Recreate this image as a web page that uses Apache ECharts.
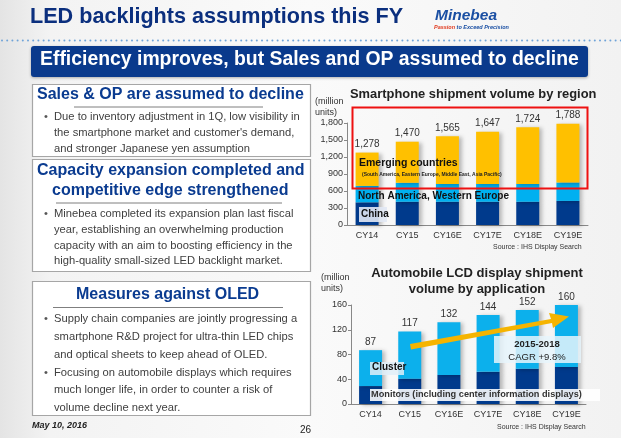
<!DOCTYPE html>
<html>
<head>
<meta charset="utf-8">
<script src="https://cdn.jsdelivr.net/npm/echarts@6/dist/echarts.min.js"></script>
<style>
  html, body { margin: 0; padding: 0; }
  #slide { width: 621px; height: 438px; }
</style>
</head>
<body>
<div id="slide"></div>
<script>
// smartphone shipments by region (million units)
var years = ["CY14", "CY15", "CY16E", "CY17E", "CY18E", "CY19E"];
var phoneTotal = [1278, 1470, 1565, 1647, 1724, 1788];
var phoneChina = [400, 410, 410, 410, 410, 425];
var phoneNaWe = [290, 335, 315, 315, 315, 325];
var phoneEmerging = [588, 725, 840, 922, 999, 1038];
var phoneTicks = [0, 300, 600, 900, 1200, 1500, 1800];

// automobile LCD shipments by application (million units)
var autoTotal = [87, 117, 132, 144, 152, 160];
var autoMonitors = [29, 41, 47, 52, 57, 60];
var autoCluster = [58, 76, 85, 92, 95, 100];
var autoTicks = [0, 40, 80, 120, 160];

var NAVY = "#0b2f7e";
var BLUE_HEAD = "#0a3b90";
var BODY = "#404040";
var FF = "Arial, 'Liberation Sans'";

function fmt(v) {
    return v.toLocaleString("en-US");
}

function txt(x, y, s, style) {
    var st = { text: s, fill: BODY, font: "11px " + FF };
    for (var k in style) st[k] = style[k];
    return { type: "text", x: x, y: y, style: st, z: 40 };
}

function box(x, y, w, h) {
    return {
        type: "rect", shape: { x: x, y: y, width: w, height: h },
        style: { fill: "#ffffff", stroke: "#a6a6a6", lineWidth: 1.2 },
        z: 1
    };
}

function uline(x1, x2, y) {
    return {
        type: "line", shape: { x1: x1, y1: y, x2: x2, y2: y },
        style: { stroke: "#7f7f7f", lineWidth: 1 }, z: 20
    };
}

function panel(x, y, w, h, fill) {
    return { type: "rect", shape: { x: x, y: y, width: w, height: h }, style: { fill: fill }, z: 30 };
}

// dotted rule under the title
var dots = [];
for (var d = 2; d < 621; d += 5.2) {
    dots.push({ type: "circle", shape: { cx: d, cy: 40.5, r: 1 }, style: { fill: "#6fa3d8" }, z: 5 });
}

var head = "bold 16px " + FF;
var bodyFont = "11.2px " + FF;

var graphics = [].concat(dots, [
    // title & logo
    txt(30, 6, "LED backlights assumptions this FY", { fill: NAVY, font: "bold 21.6px " + FF }),
    txt(435, 8, "Minebea", { fill: "#1a4fa3", font: "italic bold 15.5px " + FF }),
    { type: "text", x: 434, y: 24, z: 40, style: { rich: {
        r: { fill: "#e03a1e", font: "italic bold 5.5px " + FF },
        b: { fill: "#1a4fa3", font: "italic bold 5.5px " + FF } },
        text: "{r|Passion }{b|to Exceed Precision}" } },
    // banner
    { type: "rect", shape: { x: 31, y: 46, width: 557, height: 31, r: 3 },
      style: { fill: "#0a3a8c", shadowBlur: 3, shadowColor: "rgba(0,0,0,0.3)", shadowOffsetY: 1 }, z: 2 },
    txt(40, 50, "Efficiency improves, but Sales and OP assumed to decline", { fill: "#fff", font: "bold 19.4px " + FF }),

    // box 1
    box(32.5, 84.5, 278, 72),
    txt(37, 87, "Sales & OP are assumed to decline", { fill: BLUE_HEAD, font: head }),
    uline(74, 263, 107),
    txt(44, 111, "•", { font: bodyFont, fill: "#555" }),
    txt(54, 111, "Due to inventory adjustment in 1Q, low visibility in", { font: bodyFont }),
    txt(54, 127, "the smartphone market and customer's demand,", { font: bodyFont }),
    txt(54, 143, "and stronger Japanese yen assumption", { font: bodyFont }),

    // box 2
    box(32.5, 159.5, 278, 112),
    txt(37, 163, "Capacity expansion completed and", { fill: BLUE_HEAD, font: head }),
    txt(52, 183, "competitive edge strengthened", { fill: BLUE_HEAD, font: head }),
    uline(56, 282, 203),
    txt(44, 208, "•", { font: bodyFont, fill: "#555" }),
    txt(54, 208, "Minebea completed its expansion plan last fiscal", { font: bodyFont }),
    txt(54, 224, "year, establishing an overwhelming production", { font: bodyFont }),
    txt(54, 240, "capacity with an aim to boosting efficiency in the", { font: bodyFont }),
    txt(54, 255, "high-quality small-sized LED backlight market.", { font: bodyFont }),

    // box 3
    box(32.5, 281.5, 278, 134),
    txt(76, 287, "Measures against OLED", { fill: BLUE_HEAD, font: head }),
    uline(53, 283, 307.5),
    txt(44, 313, "•", { font: bodyFont, fill: "#555" }),
    txt(54, 313, "Supply chain companies are jointly progressing a", { font: bodyFont }),
    txt(54, 331, "smartphone R&D project for ultra-thin LED chips", { font: bodyFont }),
    txt(54, 349, "and optical sheets to keep ahead of OLED.", { font: bodyFont }),
    txt(44, 367, "•", { font: bodyFont, fill: "#555" }),
    txt(54, 367, "Focusing on automobile displays which requires", { font: bodyFont }),
    txt(54, 384, "much longer life, in order to counter a risk of", { font: bodyFont }),
    txt(54, 402, "volume decline next year.", { font: bodyFont }),

    txt(32, 421, "May 10, 2016", { fill: "#222", font: "italic bold 9px " + FF }),
    txt(300, 425, "26", { fill: "#222", font: "10px " + FF }),

    // upper chart texts
    txt(315, 96, "(million\nunits)", { fill: "#333", font: "9px " + FF, lineHeight: 11 }),
    txt(350, 88, "Smartphone shipment volume by region", { fill: "#222", font: "bold 12.9px " + FF }),
    { type: "rect", shape: { x: 352.5, y: 107.5, width: 235, height: 81 },
      style: { fill: "none", stroke: "#ee1111", lineWidth: 2 }, z: 45 },
    txt(359, 158, "Emerging countries", { fill: "#111", font: "bold 10.5px " + FF }),
    txt(362, 172, "(South America, Eastern Europe, Middle East, Asia Pacific)", { fill: "#222", font: "bold 5px " + FF }),
    txt(358, 191, "North America, Western Europe", { fill: "#111", font: "bold 10px " + FF }),
    panel(359, 207, 28, 15, "rgba(225,232,244,0.9)"),
    txt(361, 209, "China", { fill: "#111", font: "bold 10px " + FF }),
    txt(493, 244, "Source : IHS Display Search", { fill: "#333", font: "7px " + FF }),

    // lower chart texts
    txt(321, 272, "(million\nunits)", { fill: "#333", font: "9px " + FF, lineHeight: 11 }),
    txt(477, 265, "Automobile LCD display shipment\nvolume by application",
        { fill: "#222", font: "bold 13px " + FF, lineHeight: 16, align: "center" }),
    { type: "polygon", z: 22, shape: { points: [[410, 344], [551, 319], [549, 313], [569, 316.5], [553, 328], [552, 323], [411, 349.5]] },
      style: { fill: "#f5b400" } },
    panel(494, 336, 87, 27, "rgba(230,245,252,0.85)"),
    txt(537, 339, "2015-2018", { fill: "#222", font: "bold 9.5px " + FF, align: "center" }),
    txt(537, 352, "CAGR +9.8%", { fill: "#222", font: "9.5px " + FF, align: "center" }),
    panel(370, 362, 34, 13, "rgba(225,238,248,0.85)"),
    txt(372, 362.5, "Cluster", { fill: "#111", font: "bold 10px " + FF }),
    panel(370, 389, 230, 12, "rgba(255,255,255,0.88)"),
    txt(371, 390, "Monitors (including center information displays)", { fill: "#333", font: "bold 9.2px " + FF }),
    txt(497, 424, "Source : IHS Display Search", { fill: "#333", font: "7px " + FF })
]);

var barShadow = { shadowBlur: 4, shadowColor: "rgba(0,0,0,0.25)", shadowOffsetX: 3, shadowOffsetY: 1 };

function seriesItem(name, data, color, xi, totals, showLabel) {
    var s = {
        name: name, type: "bar", stack: "s" + xi, data: data,
        xAxisIndex: xi, yAxisIndex: xi, barWidth: 23,
        itemStyle: Object.assign({ color: color }, barShadow)
    };
    if (showLabel) {
        s.label = {
            show: true, position: "top", distance: 3, color: "#333",
            fontFamily: FF, fontSize: 10,
            formatter: function (p) { return fmt(totals[p.dataIndex]); }
        };
    }
    return s;
}

function yAxis(gi, max, step) {
    return {
        type: "value", gridIndex: gi, min: 0, max: max, interval: step,
        axisLine: { show: true, lineStyle: { color: "#888" } },
        axisTick: { show: true, length: 3, lineStyle: { color: "#888" } },
        splitLine: { show: false },
        axisLabel: { color: "#333", fontSize: 9, margin: 4, fontFamily: FF,
                     formatter: function (v) { return fmt(v); } }
    };
}

function xAxis(gi) {
    return {
        type: "category", gridIndex: gi, data: years,
        axisLine: { lineStyle: { color: "#888" } },
        axisTick: { show: false },
        axisLabel: { color: "#333", fontSize: 9, margin: 6, fontFamily: FF }
    };
}

var chart = echarts.init(document.getElementById("slide"));
chart.setOption({
    animation: false,
    backgroundColor: {
        type: "linear", x: 0, y: 0, x2: 1, y2: 0,
        colorStops: [{ offset: 0, color: "#e4e4e4" }, { offset: 0.08, color: "#f3f3f3" },
                     { offset: 0.5, color: "#fafafa" }, { offset: 1, color: "#f2f2f2" }]
    },
    grid: [
        { left: 347, right: 33, top: 123, bottom: 213 },
        { left: 351, right: 35, top: 305, bottom: 34 }
    ],
    xAxis: [xAxis(0), xAxis(1)],
    yAxis: [yAxis(0, phoneTicks[phoneTicks.length - 1], phoneTicks[1]),
            yAxis(1, autoTicks[autoTicks.length - 1], autoTicks[1])],
    series: [
        seriesItem("China", phoneChina, "#003a8c", 0),
        seriesItem("North America, Western Europe", phoneNaWe, "#00b0f0", 0),
        seriesItem("Emerging countries", phoneEmerging, "#ffc000", 0, phoneTotal, true),
        seriesItem("Monitors", autoMonitors, "#003a8c", 1),
        seriesItem("Cluster", autoCluster, "#0cb0ec", 1, autoTotal, true)
    ],
    graphic: graphics
});
</script>
</body>
</html>
